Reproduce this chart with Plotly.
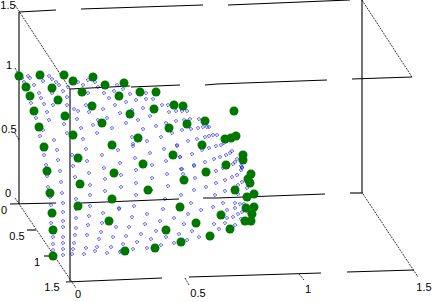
import plotly.graph_objects as go

# Positions on the projected viewing plane of the 3-D box
green_u = [19,40,64,73,93,105,124,26,52,82,140,156,30,119,58,174,183,92,154,34,130,65,205,102,187,39,169,73,138,202,112,44,
           234,236,231,225,
           78,173,143,47,114,206,184,80,148,50,112,78,180,52,109,196,53,166,210,181,155,125,53,
           243,243,226,251,248,250,235,254,247,254,246,252,245,251,221,230]
green_v = [76,75,75,81,77,85,83,87,88,92,92,92,96,96,100,105,106,106,109,111,114,116,121,123,124,127,128,135,138,145,145,147,
           111,136,138,139,
           158,155,164,171,173,172,180,184,190,193,199,206,207,213,221,223,230,230,236,242,248,251,256,
           155,160,165,174,179,183,190,194,197,207,208,214,221,221,215,229]

blue_u = [28,30,22,24,34,43,49,52,56,59,68,63,39,52,41,67,31,44,53,74,78,67,47,36,49,64,77,43,67,81,86,83,88,78,95,88,89,93,
          98,117,104,114,123,130,146,109,146,153,115,126,136,162,168,103,143,169,120,132,150,107,98,138,126,156,166,112,143,97,172,161,132,147,133,
          176,182,187,190,199,184,176,198,203,207,209,191,182,213,217,209,205,197,188,224,221,216,177,209,202,232,230,226,192,220,180,214,237,235,233,205,194,241,242,182,223,
          40,54,83,86,57,72,44,102,58,87,46,73,104,60,89,47,75,105,61,90,48,105,62,90,50,76,
          133,118,164,177,150,135,180,120,166,152,181,136,121,167,152,183,136,121,168,151,181,136,119,134,165,163,
          194,216,195,225,232,237,241,242,242,238,194,206,216,225,233,238,247,248,215,191,223,235,240,201,213,227,235,244,238,233,227,241,214,225,235,219,242,248,
          51,63,90,63,76,103,51,63,76,89,119,63,88,102,76,116,101,53,63,75,87,113,99,53,63,74,86,97,111,53,63,73,84,95,107,63,72,120,
          188,147,132,174,160,145,184,129,192,156,141,179,126,166,199,151,187,137,174,123,161,133,147,121]
blue_v = [76,78,78,82,85,81,76,79,82,85,87,91,93,93,98,97,103,104,105,109,111,105,112,118,120,124,119,130,133,128,105,85,80,82,82,93,112,125,
          87,85,93,91,89,94,93,98,99,99,105,102,100,105,105,109,108,112,113,110,116,118,120,120,123,126,123,128,129,133,133,137,137,141,144,
          111,111,111,119,119,120,121,128,127,127,127,129,130,135,135,136,137,139,141,143,145,146,145,148,150,151,153,155,154,157,157,159,159,162,164,162,165,166,168,169,168,
          136,140,139,149,150,155,155,155,160,161,165,166,168,171,173,176,177,179,182,185,187,191,193,195,197,199,
          146,150,149,146,153,158,157,163,161,165,169,170,175,174,178,174,183,187,186,190,195,195,208,206,199,209,
          166,171,178,180,177,175,170,167,182,185,190,187,183,191,190,194,188,195,195,203,203,203,204,210,207,210,208,204,214,217,218,219,224,223,225,229,212,212,
          205,203,206,212,209,213,223,221,218,216,209,227,225,223,228,227,232,237,237,235,235,237,239,244,243,243,248,247,247,250,249,249,254,251,253,255,254,252,
          214,214,217,218,221,224,224,227,231,231,234,234,236,237,237,239,240,242,243,244,245,249,248,251]

# Box edges as they appear, broken where the picture breaks them
solid_u = [19,56,None,81,203,None,228,350,None,19,19,None,362,362,None,70,70,None,
           70,130,None,131,180,None,205,217,327,None,352,412,None,
           10,56,None,81,179,None,203,217,325,None,350,363,None,
           66,162,None,189,217,321,None,347,414,None,27,36,None,44,53]
solid_v = [12,10,None,9,5,None,5,0,None,12,204,None,0,193,None,89,281,None,
           89,86,None,87,85,None,85,84,80,None,79,77,None,
           204,203,None,203,199,None,198,198,194,None,193,193,None,
           282,278,None,277,276,273,None,272,270,None,230,230,None,256,256]
thin_u = [15,70,None,362,412,None,15,76,None,363,418,None,15,19,None,15,19,None,185,189,None,299,304]
thin_v = [5,89,None,0,77,None,198,288,None,194,277,None,68,75,None,133,140,None,278,285,None,274,280]

tick_labels = ["1.5","1","0.5","0","0","0.5","1","1.5","0","0.5","1","1.5"]
label_u = [8,9,9,8,4,17,37,52,78,198,308,424]
label_v = [6,66,130,194,211,237,263,288,295,294,290,288]

fig = go.Figure()
fig.add_trace(go.Scatter(x=solid_u, y=solid_v, mode="lines", line=dict(color="#000000", width=1.1), connectgaps=False, hoverinfo="skip"))
fig.add_trace(go.Scatter(x=thin_u, y=thin_v, mode="lines", line=dict(color="#000000", width=0.8, dash="2px 1px"), connectgaps=False, hoverinfo="skip"))
fig.add_trace(go.Scatter(x=blue_u, y=blue_v, mode="markers",
                         marker=dict(symbol="diamond-open", size=2.6, color="#0000ff", line=dict(width=0.7, color="#0000ff"))))
fig.add_trace(go.Scatter(x=green_u, y=green_v, mode="markers",
                         marker=dict(symbol="circle", size=9, color="#007800", line=dict(width=0))))
fig.add_trace(go.Scatter(x=label_u, y=label_v, mode="text", text=tick_labels,
                         textfont=dict(family="Liberation Sans", size=11, color="#000000"), textposition="middle center"))
fig.update_layout(width=434, height=302, autosize=False, showlegend=False,
                  margin=dict(l=0, r=0, t=0, b=0), paper_bgcolor="#ffffff", plot_bgcolor="#ffffff",
                  xaxis=dict(range=[0, 434], visible=False, fixedrange=True),
                  yaxis=dict(range=[302, 0], visible=False, fixedrange=True))
fig.write_html("out.html", config=dict(displayModeBar=False),
               post_script="document.body.style.margin='0';document.body.style.overflow='hidden';")
